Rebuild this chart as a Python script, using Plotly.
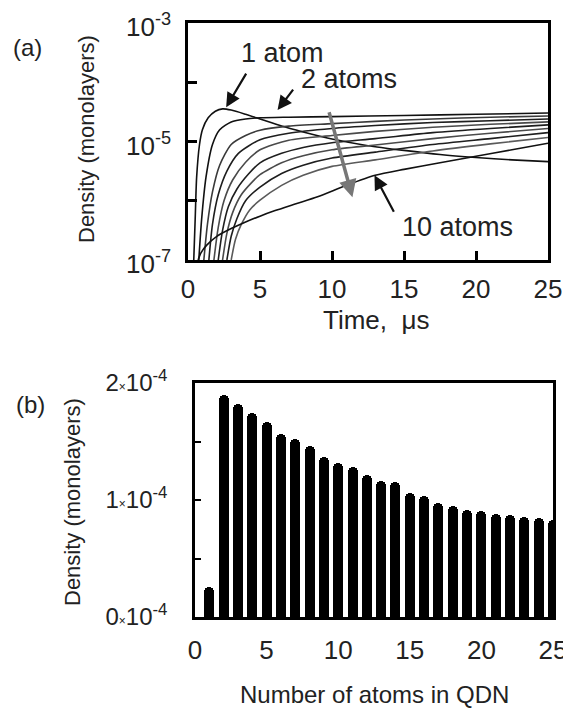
import plotly.graph_objects as go

# ---------------- Panel (a): density vs time for clusters of 1..10 atoms ----------------
t1 = [0.4, 0.5, 0.6, 0.8, 1.0, 1.4, 1.9, 2.4, 3, 4, 5, 6.5, 8, 10, 12.5, 15, 17.5, 20, 22.5, 25]
d1 = [1e-7, 5.0e-7, 2.5e-6, 8.9e-6, 1.58e-5, 2.51e-5, 3.24e-5, 3.55e-5, 3.39e-5, 2.88e-5,
      2.4e-5, 1.82e-5, 1.45e-5, 1.1e-5, 8.5e-6, 7.08e-6, 6.03e-6, 5.37e-6, 4.9e-6, 4.57e-6]

t2 = [0.75, 0.95, 1.25, 1.7, 2.2, 3, 4, 5, 7, 10, 15, 20, 25]
d2 = [1e-7, 5.0e-7, 2.5e-6, 8.9e-6, 1.58e-5, 2.14e-5, 2.4e-5, 2.51e-5, 2.57e-5, 2.63e-5, 2.75e-5, 2.88e-5, 3.02e-5]

t3 = [1.1, 1.35, 1.7, 2.2, 3, 4, 5, 7, 10, 13, 17, 21, 25]
d3 = [1e-7, 4.0e-7, 1.41e-6, 3.98e-6, 8.9e-6, 1.26e-5, 1.55e-5, 1.82e-5, 2.0e-5, 2.19e-5, 2.4e-5, 2.57e-5, 2.69e-5]

t4 = [1.45, 1.7, 2.1, 2.7, 3.5, 5, 7, 10, 13, 17, 21, 25]
d4 = [1e-7, 4.0e-7, 1.26e-6, 3.16e-6, 6.31e-6, 1.07e-5, 1.38e-5, 1.66e-5, 1.86e-5, 2.09e-5, 2.24e-5, 2.4e-5]

t5 = [1.8, 2.1, 2.5, 3.1, 4, 5, 7, 10, 13, 17, 21, 25]
d5 = [1e-7, 3.55e-7, 1.0e-6, 2.24e-6, 4.47e-6, 7.24e-6, 1.05e-5, 1.26e-5, 1.48e-5, 1.74e-5, 1.95e-5, 2.14e-5]

t6 = [2.1, 2.4, 2.8, 3.4, 4.2, 5, 6.5, 8, 10, 13, 17, 21, 25]
d6 = [1e-7, 3.16e-7, 7.94e-7, 1.58e-6, 2.82e-6, 4.37e-6, 6.31e-6, 7.94e-6, 9.55e-6, 1.12e-5, 1.41e-5, 1.66e-5, 1.91e-5]

t7 = [2.4, 2.7, 3.1, 3.7, 4.4, 5, 6.5, 8, 10, 13, 17, 21, 25]
d7 = [1e-7, 2.82e-7, 6.31e-7, 1.26e-6, 2.0e-6, 2.75e-6, 4.37e-6, 5.75e-6, 7.24e-6, 8.71e-6, 1.12e-5, 1.38e-5, 1.66e-5]

t8 = [2.7, 3.0, 3.4, 4, 5, 6.5, 8, 10, 13, 17, 21, 25]
d8 = [1e-7, 2.51e-7, 5.01e-7, 1.0e-6, 1.70e-6, 2.88e-6, 3.98e-6, 5.25e-6, 6.61e-6, 8.91e-6, 1.12e-5, 1.41e-5]

t9 = [3.0, 3.3, 3.7, 4.3, 5, 6.5, 8, 10, 13, 17, 21, 25]
d9 = [1e-7, 2.24e-7, 3.98e-7, 7.08e-7, 1.02e-6, 1.82e-6, 2.69e-6, 3.8e-6, 4.9e-6, 6.92e-6, 9.12e-6, 1.17e-5]

t10 = [0.7, 0.9, 1.3, 2, 3, 4, 5, 6, 7.5, 9, 11, 13, 15, 17.5, 20, 22.5, 25]
d10 = [1e-7, 1.32e-7, 1.78e-7, 2.51e-7, 3.39e-7, 4.37e-7, 5.5e-7, 6.76e-7, 8.91e-7, 1.17e-6,
       1.82e-6, 2.69e-6, 3.39e-6, 4.37e-6, 5.62e-6, 7.24e-6, 9.33e-6]

curves_t = [t1, t2, t3, t4, t5, t6, t7, t8, t9, t10]
curves_d = [d1, d2, d3, d4, d5, d6, d7, d8, d9, d10]
curve_colors = ["#111111", "#111111", "#3a3a3a", "#1e1e1e", "#4a4a4a",
                "#1e1e1e", "#4a4a4a", "#1e1e1e", "#5a5a5a", "#111111"]

time_ticks = [0, 5, 10, 15, 20, 25]
dens_ticks_a = [1e-7, 1e-5, 1e-3]
dens_ticktext_a = ["10<sup>-7</sup>", "10<sup>-5</sup>", "10<sup>-3</sup>"]
dens_minor_a = [1e-6, 1e-4]

# ---------------- Panel (b): density vs cluster size ----------------
n_atoms = list(range(1, 26))
density_b = [0.26e-4, 1.90e-4, 1.82e-4, 1.74e-4, 1.67e-4, 1.56e-4, 1.52e-4, 1.46e-4, 1.37e-4,
             1.32e-4, 1.285e-4, 1.21e-4, 1.166e-4, 1.15e-4, 1.06e-4, 1.035e-4, 0.973e-4,
             0.953e-4, 0.916e-4, 0.91e-4, 0.88e-4, 0.87e-4, 0.857e-4, 0.843e-4, 0.83e-4]

n_ticks = [0, 5, 10, 15, 20, 25]
dens_ticks_b = [0, 1e-4, 2e-4]
X = "<span style='font-size:12px'>×</span>"
dens_ticktext_b = ["0" + X + "10<sup>-4</sup>", "1" + X + "10<sup>-4</sup>", "2" + X + "10<sup>-4</sup>"]
dens_minor_b = [0.5e-4, 1.5e-4]

# the page body has an 8 px margin, so the figure is placed 8 px in from the top-left corner
OFF = 8
W, H = 571 - OFF, 709 - OFF
FONT = "Liberation Sans, Arial, sans-serif"

fig = go.Figure()
for t, d, c in zip(curves_t, curves_d, curve_colors):
    fig.add_trace(go.Scatter(x=t, y=d, mode="lines", xaxis="x", yaxis="y",
                             line=dict(color=c, width=1.6, shape="spline", smoothing=0.7),
                             showlegend=False, hoverinfo="skip"))

fig.add_trace(go.Bar(x=n_atoms, y=density_b, xaxis="x2", yaxis="y2", width=0.7,
                     marker=dict(color="black", line=dict(width=0), cornerradius="50%"),
                     showlegend=False))

def px(x):
    return (x - OFF) / W

def py(y):
    return 1 - (y - OFF) / H

axis_common = dict(showline=True, linewidth=2.5, linecolor="black", mirror=True,
                   showgrid=False, zeroline=False, tickcolor="black", automargin=False,
                   ticklabeloverflow="allow")
tf = dict(family=FONT, size=26, color="#222")

fig.update_layout(
    template="none",
    width=W, height=H,
    margin=dict(l=0, r=0, t=0, b=0, pad=0),
    paper_bgcolor="white", plot_bgcolor="white",
    font=dict(family=FONT, color="#222"),
    xaxis=dict(domain=[px(188), px(548)], range=[0, 25], anchor="y",
               tickvals=time_ticks, ticks="inside", ticklen=9, tickwidth=2.5,
               ticklabelstandoff=4, tickfont=tf, **axis_common),
    yaxis=dict(domain=[py(260), py(23)], type="log", range=[-7, -3], anchor="x",
               tickvals=dens_ticks_a, ticktext=dens_ticktext_a,
               ticks="inside", ticklen=9, tickwidth=2.5, ticklabelstandoff=9,
               ticklabelshift=4, tickfont=tf,
               minor=dict(tickvals=dens_minor_a, ticks="inside", ticklen=9, tickwidth=2.5,
                          tickcolor="black", showgrid=False),
               **axis_common),
    xaxis2=dict(domain=[px(195), px(553)], range=[0, 25], anchor="y2",
                tickvals=n_ticks, ticks="", ticklabelstandoff=8, tickfont=tf, **axis_common),
    yaxis2=dict(domain=[py(617), py(383)], range=[0, 2e-4], anchor="x2",
                tickvals=dens_ticks_b, ticktext=dens_ticktext_b,
                ticks="inside", ticklen=6, tickwidth=2, ticklabelstandoff=20,
                tickfont=dict(family=FONT, size=24, color="#222"),
                minor=dict(tickvals=dens_minor_b, ticks="inside", ticklen=6, tickwidth=2,
                           tickcolor="black", showgrid=False),
                **axis_common),
    bargap=0,
)

ann = []
def txt_ann(text, x, y, size, angle=0, family=FONT):
    return dict(text=text, x=px(x), y=py(y), xref="paper", yref="paper", showarrow=False,
                xanchor="center", yanchor="middle", textangle=angle,
                font=dict(size=size, family=family, color="#222"))

ann.append(txt_ann("(a)", 27, 47, 24))
ann.append(txt_ann("(b)", 30, 405, 24))
ann.append(txt_ann("Density (monolayers)", 86, 139, 22, -90))
ann.append(txt_ann("Density (monolayers)", 73, 502, 22, -90))
ann.append(txt_ann("Time,  μs", 376, 320, 26))
ann.append(txt_ann("Number of atoms in QDN", 374, 694, 24,
                   family="Liberation Sans Narrow, Arial Narrow, " + FONT))

# curve labels in panel (a) (y given in log10 units for the log axis)
for text, xx, yy in [("1 atom", 6.55, -3.51), ("2 atoms", 11.2, -3.95), ("10 atoms", 18.7, -6.45)]:
    ann.append(dict(text=text, x=xx, y=yy, xref="x", yref="y", showarrow=False,
                    xanchor="center", yanchor="middle",
                    font=dict(size=27, family=FONT, color="#222")))

for (hx, hy, tx, ty) in [(2.65, -4.42, 4.1, -3.83), (6.22, -4.47, 7.38, -4.10),
                         (12.95, -5.57, 14.35, -6.21)]:
    ann.append(dict(text="", x=hx, y=hy, ax=tx, ay=ty, xref="x", yref="y", axref="x", ayref="y",
                    showarrow=True, arrowhead=2, arrowsize=1.3, arrowwidth=2.2, arrowcolor="#111"))
# grey arrow indicating increasing cluster size
ann.append(dict(text="", x=11.42, y=-5.94, ax=9.77, ay=-4.48, xref="x", yref="y", axref="x", ayref="y",
                showarrow=True, arrowhead=2, arrowsize=1.0, arrowwidth=3.5, arrowcolor="#777"))

fig.update_layout(annotations=ann)
fig.write_html("out.html")
